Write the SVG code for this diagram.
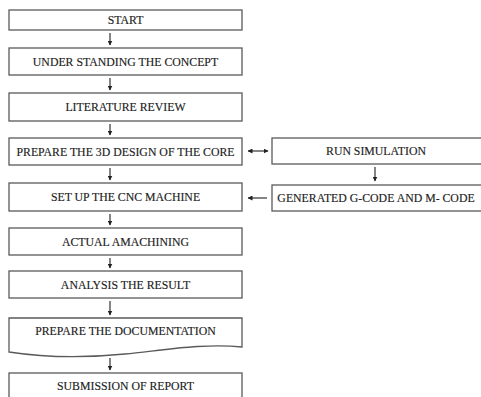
<svg xmlns="http://www.w3.org/2000/svg" width="481" height="397" viewBox="0 0 481 397">
<defs>
<style>
.box{fill:#fff;stroke:#5a5a5a;stroke-width:1.3}
.t{font-family:"Liberation Serif","Times New Roman",serif;font-size:11.8px;fill:#222;stroke:#222;stroke-width:0.15;text-anchor:middle}
.c{stroke:#333;stroke-width:1.2;fill:none}
</style>
<marker id="ah" viewBox="0 0 10 10" refX="9" refY="5" markerWidth="5" markerHeight="5" orient="auto-start-reverse" markerUnits="userSpaceOnUse">
<path d="M0,0 L10,5 L0,10 Z" fill="#222"/>
</marker>
</defs>
<rect width="481" height="397" fill="#fff"/>
<g id="start"><rect class="box" x="9" y="10" width="233" height="20"/><text class="t" x="125.5" y="24.2">START</text></g>
<g id="concept"><rect class="box" x="9" y="48" width="233" height="27"/><text class="t" x="125.5" y="65.8">UNDER STANDING THE CONCEPT</text></g>
<g id="literature"><rect class="box" x="9" y="93" width="233" height="28"/><text class="t" x="125.5" y="111.3">LITERATURE REVIEW</text></g>
<g id="design"><rect class="box" x="9" y="138" width="233" height="27"/><text class="t" x="125.5" y="155.8">PREPARE THE 3D DESIGN OF THE CORE</text></g>
<g id="setup"><rect class="box" x="9" y="183" width="233" height="28"/><text class="t" x="125.5" y="201.3">SET UP THE CNC MACHINE</text></g>
<g id="machining"><rect class="box" x="9" y="228" width="233" height="27"/><text class="t" x="125.5" y="245.8">ACTUAL AMACHINING</text></g>
<g id="analysis"><rect class="box" x="9" y="271" width="233" height="27"/><text class="t" x="125.5" y="288.8">ANALYSIS THE RESULT</text></g>
<g id="documentation"><path class="box" d="M9,318 H242 V347 C205,343 165,350 125,354 C75,359 35,356 9,352 Z"/><text class="t" x="125.5" y="335.3">PREPARE THE DOCUMENTATION</text></g>
<g id="report"><rect class="box" x="9" y="373" width="233" height="30"/><text class="t" x="125.5" y="389.5">SUBMISSION OF REPORT</text></g>
<g id="simulation"><rect class="box" x="272" y="138" width="212" height="26"/><text class="t" x="376" y="155.3">RUN SIMULATION</text></g>
<g id="gcode"><rect class="box" x="272" y="185" width="212" height="26"/><text class="t" x="376" y="202.3">GENERATED G-CODE AND M- CODE</text></g>
<g id="connectors">
<line class="c" x1="110" y1="33" x2="110" y2="45" marker-end="url(#ah)"/>
<line class="c" x1="110" y1="78" x2="110" y2="90" marker-end="url(#ah)"/>
<line class="c" x1="110" y1="124" x2="110" y2="135" marker-end="url(#ah)"/>
<line class="c" x1="110" y1="168" x2="110" y2="180" marker-end="url(#ah)"/>
<line class="c" x1="110" y1="214" x2="110" y2="225" marker-end="url(#ah)"/>
<line class="c" x1="110" y1="258" x2="110" y2="268" marker-end="url(#ah)"/>
<line class="c" x1="110" y1="301" x2="110" y2="315" marker-end="url(#ah)"/>
<line class="c" x1="110" y1="358" x2="110" y2="370" marker-end="url(#ah)"/>
<line class="c" x1="248" y1="151" x2="268" y2="151" marker-start="url(#ah)" marker-end="url(#ah)"/>
<line class="c" x1="267" y1="198" x2="248" y2="198" marker-end="url(#ah)"/>
<line class="c" x1="375" y1="167" x2="375" y2="181" marker-end="url(#ah)"/>
</g>
</svg>
